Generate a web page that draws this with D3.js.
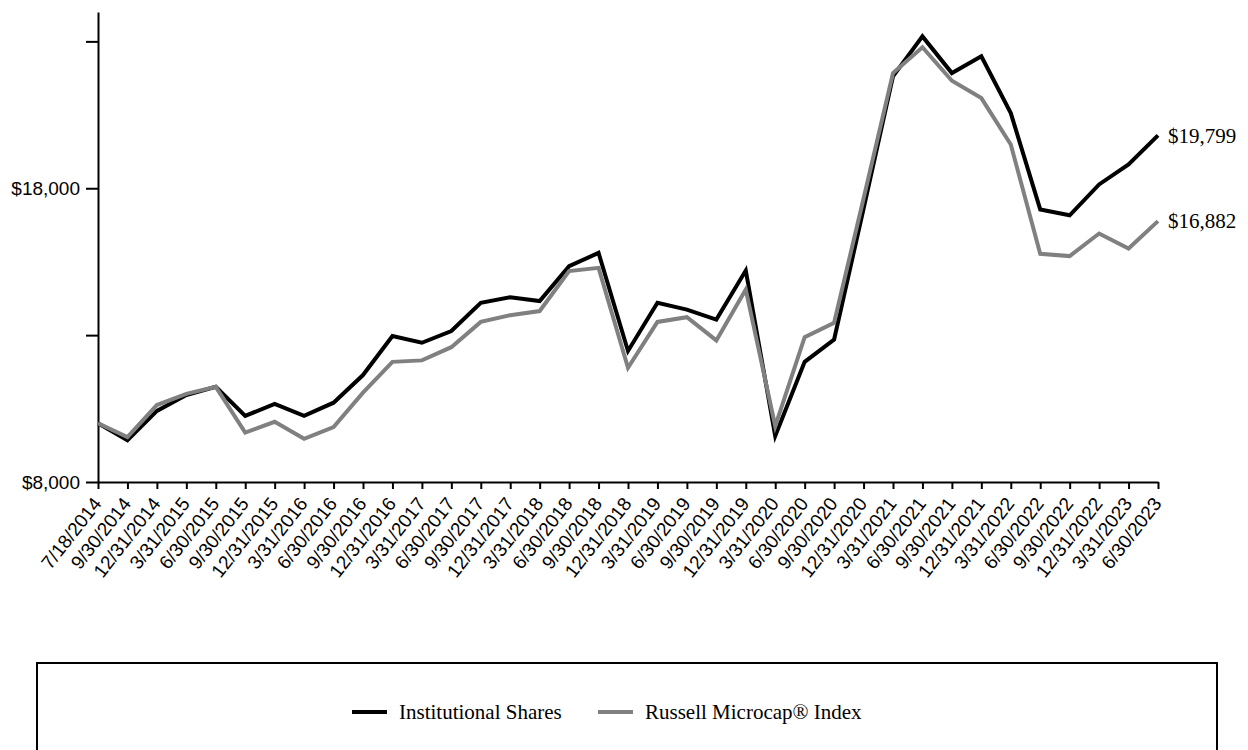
<!DOCTYPE html>
<html>
<head>
<meta charset="utf-8">
<style>
body { margin: 0; background: #fff; }
svg { display: block; }
.axis path, .axis line { stroke: #000; stroke-width: 2px; }
</style>
</head>
<body>
<svg id="chart" width="1248" height="750"></svg>
<script src="https://cdn.jsdelivr.net/npm/d3@7"></script>
<script>
// quarter-end dates on the x axis
var dates = ["7/18/2014", "9/30/2014", "12/31/2014", "3/31/2015", "6/30/2015", "9/30/2015",
  "12/31/2015", "3/31/2016", "6/30/2016", "9/30/2016", "12/31/2016", "3/31/2017", "6/30/2017",
  "9/30/2017", "12/31/2017", "3/31/2018", "6/30/2018", "9/30/2018", "12/31/2018", "3/31/2019",
  "6/30/2019", "9/30/2019", "12/31/2019", "3/31/2020", "6/30/2020", "9/30/2020", "12/31/2020",
  "3/31/2021", "6/30/2021", "9/30/2021", "12/31/2021", "3/31/2022", "6/30/2022", "9/30/2022",
  "12/31/2022", "3/31/2023", "6/30/2023"];

var institutional = [10000, 9420, 10420, 10960, 11240, 10250, 10660, 10250, 10700, 11640,
  12970, 12740, 13140, 14100, 14290, 14160, 15350, 15800, 12460, 14100, 13870, 13530, 15200,
  9570, 12090, 12850, 17300, 21810, 23170, 21920, 22490, 20560, 17280, 17080, 18130, 18810, 19799];

var russell = [10000, 9530, 10620, 11000, 11240, 9680, 10050, 9470, 9870, 11040,
  12090, 12140, 12590, 13450, 13680, 13820, 15180, 15290, 11890, 13450, 13610, 12820, 14550,
  9900, 12930, 13420, 17650, 21920, 22800, 21660, 21070, 19490, 15770, 15690, 16460, 15950, 16882];

var seriesNames = ["Institutional Shares", "Russell Microcap\u00AE Index"];
var seriesColors = ["#000000", "#808080"];
var endLabels = ["$19,799", "$16,882"];

var yTicks = [8000, 13000, 18000, 23000];
var yTickLabels = ["$8,000", "", "$18,000", ""];

var sans = "Liberation Sans, Arial, sans-serif";
var serif = "Liberation Serif, Times New Roman, serif";

var svg = d3.select("#chart");

var x = d3.scalePoint()
    .domain(dates)
    .range([98, 1158]);

var y = d3.scaleLinear()
    .domain([8000, 24000])
    .range([482, 12]);

// y axis
var yAxis = svg.append("g")
    .attr("class", "axis")
    .attr("transform", "translate(98,0)")
    .call(d3.axisLeft(y)
      .tickValues(yTicks)
      .tickFormat(function(d, i) { return yTickLabels[i]; })
      .tickSize(12)
      .tickSizeOuter(0)
      .tickPadding(6));

yAxis.selectAll("text")
    .attr("font-family", sans)
    .attr("font-size", 19)
    .attr("fill", "#000");

// x axis, labels turned up to the right
var xAxis = svg.append("g")
    .attr("class", "axis")
    .attr("transform", "translate(0,482)")
    .call(d3.axisBottom(x).tickSize(7).tickSizeOuter(0));

xAxis.selectAll("text")
    .attr("x", 0)
    .attr("y", 0)
    .attr("dy", "0")
    .attr("text-anchor", "end")
    .attr("font-family", sans)
    .attr("font-size", 19)
    .attr("fill", "#000")
    .attr("transform", "translate(4,22) rotate(-52)");

var line = d3.line()
    .x(function(d, i) { return x(dates[i]); })
    .y(function(d) { return y(d); });

[institutional, russell].forEach(function(vals, k) {
  svg.append("path")
      .datum(vals)
      .attr("fill", "none")
      .attr("stroke", seriesColors[k])
      .attr("stroke-width", 4)
      .attr("stroke-linejoin", "miter")
      .attr("d", line);

  svg.append("text")
      .attr("x", x(dates[dates.length - 1]) + 10)
      .attr("y", y(vals[vals.length - 1]))
      .attr("dy", "0.35em")
      .attr("font-family", serif)
      .attr("font-size", 21)
      .text(endLabels[k]);
});

// legend box
svg.append("rect")
    .attr("x", 37)
    .attr("y", 663)
    .attr("width", 1180)
    .attr("height", 100)
    .attr("fill", "none")
    .attr("stroke", "#000")
    .attr("stroke-width", 2);

var legendX = [352, 598];
var legend = svg.selectAll(".legend")
    .data(seriesNames)
    .enter().append("g")
      .attr("class", "legend")
      .attr("transform", function(d, i) { return "translate(" + legendX[i] + ",712)"; });

legend.append("line")
    .attr("x1", 0)
    .attr("x2", 35)
    .attr("stroke", function(d, i) { return seriesColors[i]; })
    .attr("stroke-width", 4);

legend.append("text")
    .attr("x", 47)
    .attr("dy", "0.35em")
    .attr("font-family", serif)
    .attr("font-size", 21)
    .text(function(d) { return d; });
</script>
</body>
</html>
